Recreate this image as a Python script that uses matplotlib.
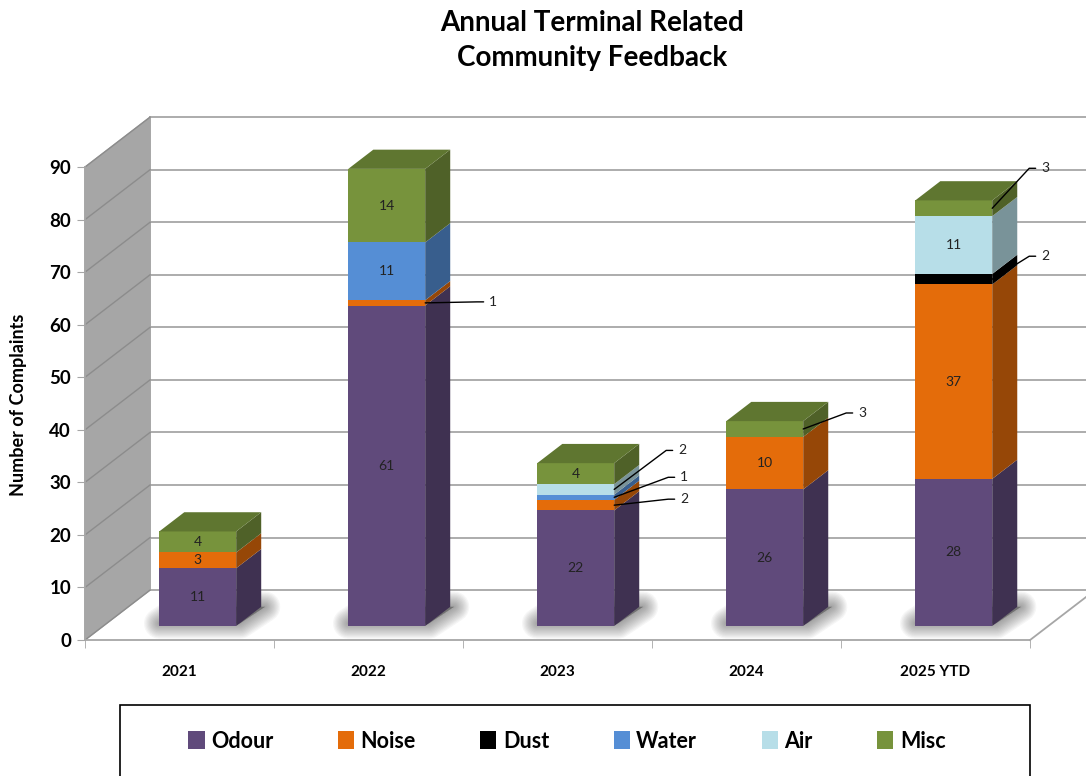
import matplotlib
matplotlib.use('Agg')
import matplotlib.pyplot as plt
from matplotlib.patches import Polygon, Rectangle, Patch
import numpy as np

plt.rcParams['font.family'] = ['Lato', 'DejaVu Sans']

years = ['2021', '2022', '2023', '2024', '2025 YTD']
series = ['Odour', 'Noise', 'Dust', 'Water', 'Air', 'Misc']
odour = [11, 61, 22, 26, 28]
noise = [3, 1, 2, 10, 37]
dust = [0, 0, 0, 0, 2]
water = [0, 11, 1, 0, 0]
air = [0, 0, 2, 0, 11]
misc = [4, 14, 4, 3, 3]
values = [odour, noise, dust, water, air, misc]
colors = ['#604A7B', '#E46C0A', '#000000', '#558ED5', '#B7DEE8', '#77933C']

# segments labelled with a leader line: (year index, series index, offset px)
callouts = [(1, 1, (64, -1)), (2, 1, (66, -6)), (2, 3, (66, -20)),
            (2, 4, (64, -39)), (3, 5, (55, -16)), (4, 2, (49, -23)),
            (4, 5, (49, -40))]

def shade(c, f):
    r, g, b = matplotlib.colors.to_rgb(c)
    return (r * f, g * f, b * f)

fig = plt.figure(figsize=(10.86, 7.76), dpi=100)
ax = fig.add_axes([0, 0, 1, 1])
ax.set_xlim(-0.9497, 4.796)
ax.set_ylim(-25.88, 121.8)

# fake 3d: depth vector of the whole floor, in data units
DX, DY = 0.344, 9.5
d0, d1 = 0.28, 0.665
bw = 0.407
wall_c = '#A6A6A6'

# side wall + back wall
ax.add_patch(Polygon([(-0.5, 0), (-0.5, 90), (-0.5 + DX, 90 + DY), (-0.5 + DX, DY)],
                     closed=True, fc=wall_c, ec=wall_c, lw=1, zorder=0))
for v in range(0, 100, 10):
    ax.plot([-0.5, -0.5 + DX], [v, v + DY], color='#8C8C8C', lw=1, zorder=1)
    ax.plot([-0.5 + DX, 5], [v + DY, v + DY], color=wall_c, lw=1.3, zorder=0)
ax.plot([-0.5 + DX, -0.5 + DX], [DY, 90 + DY], color=wall_c, lw=1.3, zorder=0)
ax.plot([4.5, 4.5 + DX], [0, DY], color=wall_c, lw=1.3, zorder=0)

x = np.arange(len(years))
fx = x + d0 * DX
base = d0 * DY
sx, sy = (d1 - d0) * DX, (d1 - d0) * DY

# soft shadows on the floor (blurred bar footprint)
for xi in fx:
    xl, xr = xi - bw / 2, xi + bw / 2 + 0.02
    foot = [(xl, base + 0.5), (xr, base + 0.5), (xr + sx, base + sy), (xl + sx, base + sy)]
    for lw in np.linspace(22, 2, 12):
        ax.add_patch(Polygon(foot, closed=True, fc='#333333', ec='#333333', lw=lw,
                             joinstyle='round', alpha=0.045, zorder=2))

bottom = np.zeros(len(years))
for s, (vals, c) in enumerate(zip(values, colors)):
    vals = np.array(vals, dtype=float)
    ax.bar(fx, vals, width=bw, bottom=bottom + base, color=c, lw=0, zorder=3 + s * 0.01)
    for i in range(len(years)):
        if vals[i] == 0:
            continue
        y0 = bottom[i] + base
        y1 = y0 + vals[i]
        xr = fx[i] + bw / 2
        ax.add_patch(Polygon([(xr, y0), (xr + sx, y0 + sy), (xr + sx, y1 + sy), (xr, y1)],
                             closed=True, fc=shade(c, 0.66), ec='none', zorder=3 + s * 0.01))
    bottom += vals

# top faces
for i in range(len(years)):
    top_s = max(s for s in range(len(series)) if values[s][i] > 0)
    y1 = bottom[i] + base
    xl, xr = fx[i] - bw / 2, fx[i] + bw / 2
    ax.add_patch(Polygon([(xl, y1), (xr, y1), (xr + sx, y1 + sy), (xl + sx, y1 + sy)],
                         closed=True, fc=shade(colors[top_s], 0.8), ec='none', zorder=4))

# data labels
out = {(i, s): off for i, s, off in callouts}
cum = np.zeros(len(years))
for s, vals in enumerate(values):
    for i, v in enumerate(vals):
        if v == 0:
            continue
        mid = base + cum[i] + v / 2
        if (i, s) in out:
            dxp, dyp = out[(i, s)]
            ang = np.degrees(np.arctan2(-dyp, dxp - 12)) if dyp != 0 else 0
            ax.annotate(str(v), xy=(fx[i] + bw / 2, mid),
                        xytext=(dxp * 0.72, -dyp * 0.72), textcoords='offset points',
                        ha='left', va='center', fontsize=10, color='#222222',
                        arrowprops=dict(arrowstyle='-', color='black', lw=1, shrinkA=2, shrinkB=0,
                                        connectionstyle='angle,angleA=0,angleB=%f,rad=0' % ang),
                        zorder=10)
        else:
            ax.text(fx[i], mid, str(v), ha='center', va='center', fontsize=10,
                    color='#222222', zorder=10)
        cum[i] += v

# axes
for sp in ['top', 'right']:
    ax.spines[sp].set_visible(False)
ax.spines['left'].set_position(('data', -0.5))
ax.spines['left'].set_bounds(0, 90)
ax.spines['bottom'].set_position(('data', 0))
ax.spines['bottom'].set_bounds(-0.5, 4.5)
ax.spines['left'].set_color(wall_c)
ax.spines['bottom'].set_color(wall_c)
ax.spines['left'].set_linewidth(1.3)
ax.spines['bottom'].set_linewidth(1.3)
ax.set_yticks(range(0, 100, 10))
ax.set_yticklabels([str(v) for v in range(0, 100, 10)], fontsize=13.5, fontweight='bold')
ax.tick_params(axis='y', length=6, color=wall_c, pad=4)
ax.set_xticks(x)
ax.set_xticklabels(years, fontsize=11, fontweight='bold')
ax.tick_params(axis='x', length=0, pad=18)
ax.set_xticks(np.arange(-0.5, 5, 1), minor=True)
ax.tick_params(axis='x', which='minor', length=6, color=wall_c)

fig.text(0.017, 0.478, 'Number of Complaints', rotation=90, ha='center', va='center',
         fontsize=13, fontweight='bold')
fig.text(0.545, 0.948, 'Annual Terminal Related\nCommunity Feedback', ha='center', va='center',
         fontsize=20, fontweight='bold', linespacing=1.45)

# legend
fig.patches.append(Rectangle((0.1105, -0.01), 0.838, 0.1015, transform=fig.transFigure,
                             fc='white', ec='black', lw=1.2))
handles = [Patch(fc=c, ec='none') for c in colors]
fig.legend(handles, series, loc='center', bbox_to_anchor=(0.522, 0.045), ncol=6,
           frameon=False, prop={'size': 15.5, 'weight': 'bold'}, handlelength=0.75,
           handleheight=0.9, handletextpad=0.3, columnspacing=3.0)

fig.savefig('out.png', dpi=100)
